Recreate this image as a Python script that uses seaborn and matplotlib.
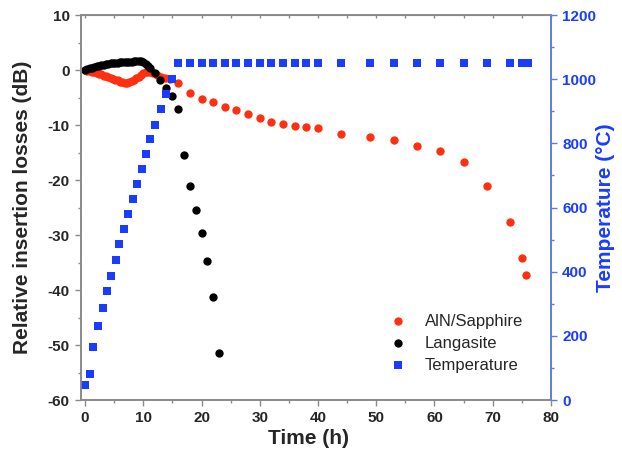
import numpy as np
import pandas as pd
import matplotlib
matplotlib.use("Agg")
import matplotlib.pyplot as plt
import seaborn as sns

# AlN/Sapphire (red) - dense early part then sparse points
aln_time = [0.0, 0.4, 0.8, 1.2, 1.6, 2.0, 2.4, 2.8, 3.2, 3.6, 4.0, 4.4, 4.8, 5.2,
            5.6, 6.0, 6.4, 6.8, 7.2, 7.6, 8.0, 8.4, 8.8, 9.2, 9.6, 10.0, 10.4, 10.8,
            11.2, 11.6, 12.3, 13.0, 13.7, 14.5, 16.0, 18.0, 20.0, 22.0, 24.0, 26.0,
            28.0, 30.0, 32.0, 34.0, 36.0, 38.0, 40.0, 44.0, 49.0, 53.0, 57.0, 61.0,
            65.0, 69.0, 73.0, 75.0, 75.7]
aln_loss = [0.0, -0.1, -0.2, -0.3, -0.4, -0.5, -0.7, -0.8, -1.0, -1.1, -1.3, -1.5, -1.6, -1.8,
            -1.9, -2.1, -2.2, -2.3, -2.3, -2.2, -2.0, -1.8, -1.5, -1.2, -0.9, -0.6, -0.4, -0.3,
            -0.3, -0.5, -0.9, -1.2, -1.5, -1.7, -2.4, -4.1, -5.3, -5.9, -6.7, -7.3,
            -8.0, -8.7, -9.4, -9.9, -10.2, -10.3, -10.5, -11.6, -12.1, -12.7, -13.9, -14.7,
            -16.7, -21.1, -27.6, -34.1, -37.3]

# Langasite (black)
lgs_time = [0.0, 0.4, 0.8, 1.2, 1.6, 2.0, 2.4, 2.8, 3.2, 3.6, 4.0, 4.4, 4.8, 5.2,
            5.6, 6.0, 6.4, 6.8, 7.2, 7.6, 8.0, 8.4, 8.8, 9.2, 9.6, 10.0, 10.4, 10.8,
            11.2, 12.0, 12.9, 13.9, 14.9, 16.0, 17.0, 18.0, 19.1, 20.0, 21.0, 22.0, 23.0]
lgs_loss = [0.0, 0.15, 0.3, 0.45, 0.6, 0.7, 0.8, 0.9, 1.0, 1.1, 1.15, 1.2, 1.25, 1.3,
            1.35, 1.4, 1.4, 1.45, 1.5, 1.5, 1.55, 1.6, 1.65, 1.7, 1.6, 1.4, 1.1, 0.8,
            0.4, -0.6, -1.9, -3.3, -4.7, -7.0, -15.5, -21.0, -25.5, -29.7, -34.8, -41.3, -51.5]

# Temperature (blue)
temp_time = [0.0, 0.9, 1.4, 2.3, 3.0, 3.8, 4.5, 5.3, 5.9, 6.7, 7.4, 8.2, 8.9, 9.7,
             10.4, 11.1, 12.0, 13.0, 13.9, 14.9, 16.0, 18.0, 20.0, 22.0, 24.0, 26.0,
             28.0, 30.0, 32.0, 34.0, 36.0, 38.0, 40.0, 44.0, 49.0, 53.0, 57.0, 61.0,
             65.0, 69.0, 73.0, 75.0, 75.5, 76.0]
temp_c = [47, 81, 164, 231, 286, 339, 388, 437, 485, 532, 579, 626, 673, 719,
          766, 813, 858, 906, 953, 1001, 1050, 1050, 1050, 1050, 1050, 1050,
          1050, 1050, 1050, 1050, 1050, 1050, 1050, 1050, 1050, 1050, 1050, 1050,
          1050, 1050, 1050, 1050, 1050, 1050]

red = "#ff3010"
blue = "#1a3cff"
grey = "#8a8a8a"

sns.set_style("ticks")
plt.rcParams['font.family'] = ['Liberation Sans', 'DejaVu Sans']
plt.rcParams['axes.unicode_minus'] = False

aln = pd.DataFrame({"time": aln_time, "loss": aln_loss})
lgs = pd.DataFrame({"time": lgs_time, "loss": lgs_loss})
tmp = pd.DataFrame({"time": temp_time, "temp": temp_c})

fig = plt.figure(figsize=(6.22, 4.61), dpi=100)
ax = fig.add_axes([0.1302, 0.1323, 0.7556, 0.8351])
ax2 = ax.twinx()

sns.scatterplot(data=aln, x="time", y="loss", ax=ax, color=red, s=36,
                linewidth=0, marker="o", label="AlN/Sapphire", legend=False)
sns.scatterplot(data=lgs, x="time", y="loss", ax=ax, color="black", s=36,
                linewidth=0, marker="o", label="Langasite", legend=False)
sns.scatterplot(data=tmp, x="time", y="temp", ax=ax2, color=blue, s=26,
                linewidth=0, marker="s", label="Temperature", legend=False)

ax.set_xlim(-0.7, 80)
ax.set_ylim(-60, 10)
ax2.set_ylim(0, 1200)

ax.set_xticks(np.arange(0, 81, 10))
ax.set_xticks(np.arange(0, 81, 5), minor=True)
ax.set_yticks(np.arange(-60, 11, 10))
ax.set_yticks(np.arange(-60, 11, 5), minor=True)
ax2.set_yticks(np.arange(0, 1201, 200))
ax2.set_yticks(np.arange(0, 1201, 100), minor=True)

for a in (ax, ax2):
    for sp in a.spines.values():
        sp.set_color(grey)
        sp.set_linewidth(1.2)
ax2.spines["right"].set_color("#5a78f0")

ax.tick_params(axis="both", which="major", direction="out", length=4, width=1,
               color=grey, labelsize=11, pad=4)
ax.tick_params(axis="both", which="minor", direction="out", length=2.5, width=1, color=grey)
ax2.tick_params(axis="y", which="major", direction="out", length=4, width=1,
                color="#5a78f0", labelsize=11, labelcolor=blue, pad=4)
ax2.tick_params(axis="y", which="minor", direction="out", length=2.5, width=1, color="#5a78f0")
for lab in ax.get_xticklabels() + ax.get_yticklabels() + ax2.get_yticklabels():
    lab.set_fontweight("bold")

top = ax.secondary_xaxis("top")
top.set_xticks(np.arange(0, 81, 5))
top.tick_params(direction="in", length=2.5, width=1, color=grey, labeltop=False)
top.spines["top"].set_color(grey)

ax.set_xlabel("Time (h)", fontsize=15, fontweight="bold")
ax.set_ylabel("Relative insertion losses (dB)", fontsize=15, fontweight="bold")
ax2.set_ylabel("Temperature (\u00b0C)", fontsize=15, fontweight="bold", color=blue)
ax.xaxis.set_label_coords(0.485, -0.075)
ax.yaxis.set_label_coords(-0.105, 0.5)
ax2.yaxis.set_label_coords(1.096, 0.5)

h1, l1 = ax.get_legend_handles_labels()
h2, l2 = ax2.get_legend_handles_labels()
ax2.legend(h1 + h2, l1 + l2, loc="upper left", bbox_to_anchor=(0.589, 0.352),
           bbox_transform=fig.transFigure, frameon=False, fontsize=12,
           handletextpad=0.62, labelspacing=0.42, markerscale=1.0)

fig.savefig("out.png", dpi=100)
